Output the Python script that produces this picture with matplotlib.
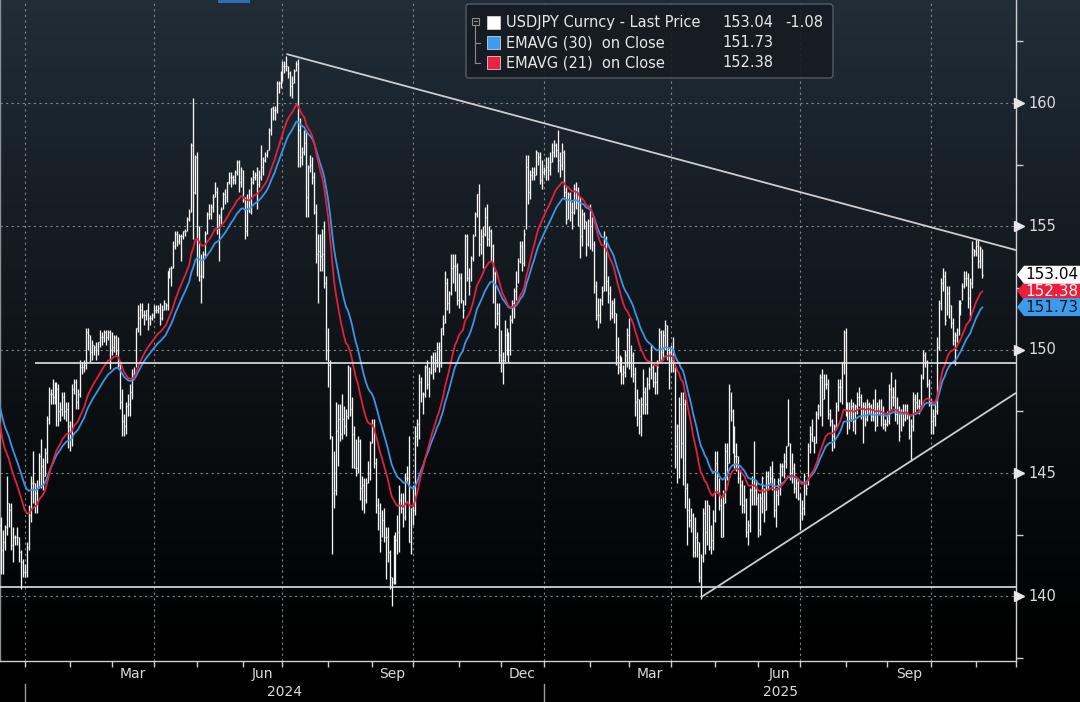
import numpy as np
import pandas as pd
import matplotlib
matplotlib.use("Agg")
import matplotlib.pyplot as plt
from matplotlib import transforms
from matplotlib.patches import Polygon, FancyBboxPatch, Rectangle

plt.rcParams["font.family"] = ["DejaVu Sans"]

# USDJPY daily bars, one value per business day from 2023-11-01 to 2025-11-06
start_date = "2023-11-01"
base_date = "2024-01-01"

close = [
    151.0, 150.4, 149.4, 150.1, 150.4, 151.0, 151.4, 151.5, 151.7, 150.4, 151.4, 150.7, 149.6, 148.4, 148.4, 149.6, 149.6, 149.5, 148.7, 147.5, 147.2, 148.2,  # Nov 23
    146.8, 147.2, 147.2, 147.3, 144.1, 144.9, 146.2, 145.4, 142.9, 141.9, 142.2, 142.8, 143.8, 143.5, 142.1, 142.4, 142.4, 142.4, 141.8, 141.4, 141.0,  # Dec 23
    141.0, 142.0, 143.3, 144.6, 144.6, 144.2, 144.4, 145.7, 145.3, 144.9, 145.8, 147.2, 148.2, 148.2, 148.1, 148.1, 148.4, 147.5, 147.6, 148.1, 147.5, 147.6, 146.9,  # Jan 24
    146.4, 148.4, 148.7, 147.9, 148.2, 149.3, 149.3, 149.4, 150.7, 150.6, 149.9, 150.2, 150.1, 150.0, 150.3, 150.5, 150.5, 150.7, 150.5, 150.7, 150.0,  # Feb
    150.1, 150.5, 150.0, 149.4, 147.9, 147.1, 146.9, 147.7, 147.8, 148.3, 149.0, 149.1, 150.9, 151.3, 151.6, 151.4, 151.4, 151.6, 151.3, 151.3, 151.4,  # Mar
    151.6, 151.6, 151.7, 151.3, 151.6, 151.9, 151.8, 153.2, 153.3, 153.3, 154.2, 154.7, 154.4, 154.6, 154.6, 154.8, 154.8, 155.3, 155.6, 158.3, 156.4, 157.8,  # Apr
    155.0, 153.0, 153.0, 153.9, 154.7, 155.5, 155.5, 155.8, 156.2, 156.4, 154.9, 155.4, 155.7, 156.3, 156.2, 156.8, 157.0, 157.0, 156.9, 157.2, 157.6, 156.8, 157.3,  # May
    156.1, 154.8, 156.1, 155.6, 156.8, 157.0, 157.1, 156.7, 157.0, 157.4, 157.7, 157.9, 158.1, 158.9, 159.8, 159.7, 159.7, 160.8, 160.8, 160.9,  # Jun
    161.5, 161.5, 161.5, 161.2, 160.7, 160.8, 161.3, 161.6, 158.9, 157.8, 158.0, 158.4, 156.2, 157.4, 157.5, 157.0, 155.6, 153.9, 154.0, 153.8, 153.9, 152.7, 150.0,  # Jul
    149.4, 146.5, 144.2, 144.3, 146.7, 147.2, 146.6, 147.2, 146.9, 147.3, 149.3, 147.6, 146.6, 145.2, 145.2, 146.3, 144.4, 144.5, 143.9, 144.6, 145.0, 146.2,  # Aug
    146.9, 145.4, 143.7, 143.4, 142.3, 143.1, 142.4, 142.4, 141.8, 140.8, 140.6, 142.3, 142.3, 142.6, 143.9, 143.6, 143.2, 144.8, 144.8, 142.2, 143.6,  # Sep
    143.5, 146.5, 147.0, 148.7, 148.2, 148.2, 149.3, 148.6, 149.1, 149.7, 149.2, 149.6, 150.1, 149.5, 150.9, 151.1, 152.7, 151.9, 152.3, 153.3, 153.4, 153.4, 152.0,  # Oct
    152.9, 152.0, 151.6, 154.6, 152.9, 152.6, 153.7, 154.6, 155.5, 156.3, 154.3, 154.6, 154.7, 155.4, 154.5, 154.8, 154.2, 153.1, 151.1, 151.5, 149.8,  # Nov
    149.6, 149.6, 150.6, 150.1, 150.0, 151.2, 151.9, 152.4, 152.6, 153.6, 154.2, 153.5, 154.7, 157.4, 156.4, 157.1, 157.2, 157.1, 158.0, 157.8, 156.9, 157.2,  # Dec
    157.3, 157.4, 157.3, 157.6, 158.0, 158.3, 158.1, 157.7, 157.5, 158.0, 156.4, 155.3, 156.3, 155.6, 155.6, 156.5, 156.0, 156.0, 154.6, 155.5, 155.2, 154.3, 155.2,  # Jan 25
    155.0, 154.3, 152.6, 151.4, 151.4, 152.0, 152.4, 154.4, 152.8, 152.3, 151.5, 151.9, 151.5, 149.7, 149.3, 149.7, 149.0, 149.1, 149.8, 150.6,  # Feb
    149.5, 149.8, 149.0, 147.9, 148.0, 147.3, 147.8, 148.3, 147.8, 148.6, 149.2, 149.3, 148.7, 148.7, 149.3, 150.7, 149.9, 150.6, 151.0, 149.8, 149.9,  # Mar
    149.6, 149.6, 146.1, 146.9, 147.8, 146.2, 147.8, 144.4, 143.5, 143.1, 143.3, 141.8, 142.4, 142.2, 140.8, 141.6, 143.4, 142.6, 143.7, 142.0, 142.3, 143.1,  # Apr
    145.4, 144.9, 143.7, 142.4, 143.8, 145.9, 145.4, 148.4, 147.5, 146.6, 145.7, 145.7, 144.8, 144.5, 143.7, 143.9, 142.6, 142.9, 144.3, 144.8, 144.3, 144.0,  # May
    142.7, 144.0, 144.8, 143.5, 144.9, 144.6, 144.8, 144.9, 143.5, 144.1, 144.7, 145.3, 145.3, 145.5, 146.1, 146.2, 145.0, 145.2, 144.4, 144.6, 144.0,  # Jun
    143.4, 143.6, 144.9, 144.4, 146.1, 146.6, 146.3, 146.2, 147.4, 147.7, 148.9, 148.0, 148.6, 148.6, 147.4, 147.1, 146.5, 146.9, 147.7, 148.5, 148.5, 149.5, 150.7,  # Jul
    147.4, 147.1, 147.5, 147.7, 147.1, 147.7, 148.1, 148.1, 147.4, 147.7, 147.2, 147.8, 147.7, 147.3, 147.4, 146.9, 147.7, 147.4, 147.4, 147.0, 147.0,  # Aug
    147.1, 148.4, 148.1, 148.1, 147.4, 147.5, 146.5, 147.4, 147.2, 147.7, 147.4, 146.5, 146.9, 148.0, 147.9, 147.7, 147.7, 148.9, 149.8, 149.5, 148.6, 147.9,  # Sep
    147.1, 147.3, 147.5, 150.1, 151.9, 152.7, 153.0, 151.2, 152.3, 151.8, 151.1, 150.4, 150.6, 150.8, 151.9, 151.9, 152.6, 152.9, 152.9, 152.1, 152.7, 154.1, 154.0,  # Oct
    154.2, 153.6, 154.12, 153.04,  # Nov
]

high = [
    151.7, 151.1, 150.5, 150.2, 150.7, 151.0, 151.4, 151.6, 151.9, 151.9, 151.4, 151.4, 150.8, 149.8, 148.7, 149.8, 149.7, 149.7, 149.6, 148.8, 147.9, 148.3,
    148.3, 147.3, 147.4, 147.6, 147.3, 145.2, 146.6, 146.6, 145.6, 143.2, 142.7, 142.9, 144.9, 143.8, 143.8, 142.8, 142.5, 142.8, 142.4, 141.9, 141.5,
    141.3, 142.2, 143.7, 144.9, 145.9, 144.6, 144.7, 145.8, 146.4, 145.6, 146.0, 147.3, 148.5, 148.4, 148.8, 148.7, 148.7, 148.6, 147.9, 148.3, 148.3, 147.9, 147.9,
    147.1, 148.6, 148.8, 148.8, 148.4, 149.6, 149.5, 149.6, 150.9, 150.9, 150.6, 150.4, 150.2, 150.3, 150.3, 150.8, 150.7, 150.8, 150.8, 150.8, 150.8,
    150.7, 150.6, 150.6, 150.5, 149.5, 148.4, 147.4, 147.9, 148.2, 148.6, 149.2, 149.3, 150.9, 151.8, 151.9, 151.9, 151.6, 151.6, 151.9, 151.4, 151.5,
    151.8, 151.8, 151.8, 151.9, 151.8, 152.0, 151.9, 153.2, 153.3, 153.4, 154.4, 154.8, 154.8, 154.7, 154.7, 154.8, 154.9, 155.4, 155.7, 158.4, 160.2, 157.9,
    158.0, 155.0, 153.9, 154.0, 154.8, 155.6, 155.9, 155.9, 156.3, 156.8, 156.6, 155.5, 155.8, 156.4, 156.5, 156.8, 157.2, 157.2, 157.1, 157.3, 157.7, 157.7, 157.4,
    157.3, 156.2, 156.3, 156.5, 157.0, 157.3, 157.2, 157.4, 157.3, 158.3, 157.8, 158.0, 158.1, 159.0, 159.8, 159.9, 159.9, 160.9, 160.9, 161.3,
    161.7, 161.7, 161.9, 161.5, 161.3, 161.1, 161.4, 161.7, 161.8, 159.4, 158.2, 158.9, 158.9, 157.5, 157.9, 157.8, 157.2, 155.9, 154.7, 154.7, 154.9, 155.2, 153.0,
    150.9, 149.6, 146.5, 145.9, 147.9, 147.8, 147.8, 148.2, 147.7, 147.6, 149.4, 149.3, 148.1, 146.9, 146.4, 146.5, 146.4, 144.9, 144.8, 144.8, 145.5, 146.3,
    147.2, 147.2, 145.6, 144.0, 143.8, 143.5, 143.6, 142.8, 142.8, 141.9, 140.8, 142.5, 142.6, 143.3, 144.5, 144.2, 144.2, 145.0, 145.3, 146.5, 143.6,
    144.5, 146.9, 147.2, 149.0, 148.9, 148.3, 149.4, 149.6, 149.3, 149.8, 149.9, 149.9, 150.3, 150.3, 150.9, 151.4, 153.2, 152.9, 152.4, 153.9, 153.9, 153.9, 153.5,
    153.1, 153.1, 152.0, 154.7, 154.7, 153.3, 153.8, 154.7, 155.6, 156.3, 156.7, 154.9, 155.0, 155.8, 155.9, 155.0, 154.9, 154.3, 153.2, 151.9, 151.9,
    150.8, 149.9, 151.2, 150.9, 150.7, 151.4, 152.0, 152.5, 153.2, 153.7, 154.4, 154.4, 154.9, 157.9, 157.9, 157.3, 157.4, 157.4, 158.1, 158.0, 158.0, 157.7,
    157.4, 157.8, 157.8, 158.0, 158.4, 158.5, 158.4, 158.9, 158.0, 158.4, 158.1, 156.6, 156.4, 156.4, 156.0, 156.7, 156.8, 156.6, 156.2, 155.7, 155.6, 155.2, 155.3,
    155.9, 155.4, 154.4, 152.8, 152.1, 152.1, 152.6, 154.8, 154.6, 153.0, 152.6, 152.0, 152.1, 151.5, 150.5, 149.8, 149.7, 149.4, 150.0, 150.9,
    151.3, 150.2, 149.9, 149.3, 148.4, 148.0, 148.1, 149.2, 148.5, 148.9, 149.3, 150.2, 149.4, 149.1, 149.6, 150.9, 150.8, 150.8, 151.2, 151.0, 150.1,
    150.2, 150.5, 149.3, 147.0, 148.1, 148.3, 148.3, 148.0, 144.6, 144.0, 143.6, 143.4, 143.2, 142.6, 142.2, 141.7, 143.6, 143.9, 143.9, 143.7, 142.9, 143.5,
    145.9, 145.9, 144.8, 144.0, 144.3, 146.2, 146.2, 148.6, 148.3, 147.6, 146.9, 146.2, 145.7, 145.1, 144.7, 144.5, 144.0, 143.1, 144.4, 144.9, 146.3, 144.7,
    144.2, 144.2, 144.9, 144.4, 145.1, 145.1, 145.3, 145.5, 144.8, 144.4, 144.8, 145.4, 145.4, 145.8, 146.1, 148.0, 146.2, 145.8, 145.4, 144.9, 144.8,
    144.2, 143.9, 145.0, 144.6, 146.2, 146.9, 147.2, 146.5, 147.5, 147.8, 149.0, 149.2, 149.0, 149.0, 148.8, 147.6, 147.2, 147.0, 147.9, 148.8, 148.8, 149.5, 150.8,
    150.9, 147.9, 147.9, 148.0, 147.9, 147.8, 148.3, 148.5, 148.2, 147.9, 147.9, 148.0, 147.9, 147.8, 148.0, 148.4, 147.9, 148.0, 148.0, 147.7, 147.2,
    147.5, 148.6, 149.1, 148.5, 148.8, 148.1, 147.7, 147.6, 147.8, 147.8, 147.8, 147.4, 147.2, 148.3, 148.2, 148.3, 148.0, 149.0, 150.0, 149.9, 149.6, 148.8,
    148.0, 147.6, 147.9, 150.5, 152.0, 152.9, 153.3, 153.2, 152.6, 152.6, 151.8, 151.3, 150.7, 150.9, 152.0, 152.0, 152.7, 153.2, 153.2, 153.1, 152.9, 154.4, 154.1,
    154.5, 154.5, 154.2, 154.1,
]

low = [
    150.6, 150.0, 149.0, 149.2, 149.9, 150.3, 150.8, 151.0, 151.4, 150.2, 150.2, 150.5, 149.2, 148.1, 147.2, 148.7, 149.3, 149.2, 148.6, 147.2, 146.7, 147.2,
    146.7, 146.2, 146.8, 146.6, 141.7, 142.9, 144.7, 145.1, 142.6, 140.9, 140.9, 141.9, 142.5, 142.8, 141.9, 141.4, 142.1, 142.1, 141.4, 140.3, 140.8,
    140.8, 140.8, 141.9, 143.0, 143.8, 143.4, 143.4, 144.4, 144.4, 144.3, 144.9, 145.4, 147.0, 147.8, 147.8, 147.8, 146.9, 146.9, 147.1, 147.3, 147.2, 147.1, 146.0,
    145.9, 146.1, 148.2, 147.6, 147.6, 148.1, 149.0, 149.1, 149.2, 150.0, 149.5, 149.6, 149.8, 149.6, 149.8, 150.1, 150.2, 150.3, 150.2, 150.4, 149.2,
    149.8, 149.9, 149.8, 149.2, 147.6, 146.5, 146.5, 146.6, 147.3, 147.3, 148.0, 148.9, 149.3, 150.7, 150.6, 151.3, 151.0, 151.2, 150.8, 151.0, 151.2,
    151.3, 151.5, 151.5, 151.0, 151.2, 151.6, 151.6, 151.6, 152.9, 152.6, 153.3, 154.1, 154.2, 154.3, 153.6, 154.5, 154.6, 154.8, 155.2, 155.6, 154.5, 156.3,
    153.0, 152.8, 151.9, 152.9, 153.8, 154.7, 155.3, 155.3, 155.6, 156.2, 154.7, 153.6, 155.1, 155.7, 155.9, 156.0, 156.7, 156.6, 156.7, 156.7, 157.1, 156.4, 156.6,
    156.0, 154.5, 154.6, 155.6, 155.5, 156.7, 156.9, 155.7, 156.6, 156.9, 157.1, 157.6, 157.8, 158.1, 158.7, 159.3, 159.3, 159.6, 160.4, 160.6,
    160.9, 161.2, 161.3, 161.0, 160.3, 160.2, 160.8, 161.3, 157.4, 157.4, 157.5, 157.9, 155.4, 155.4, 157.2, 156.7, 155.5, 153.5, 151.9, 153.2, 153.2, 152.5, 149.6,
    148.5, 146.4, 141.7, 143.6, 144.1, 145.3, 146.3, 146.4, 146.6, 146.5, 147.2, 147.3, 145.2, 145.2, 144.9, 145.0, 143.9, 143.5, 143.4, 143.8, 144.6, 144.7,
    146.2, 145.2, 143.4, 142.7, 141.8, 142.4, 142.2, 140.7, 141.4, 140.3, 139.6, 140.5, 140.5, 141.7, 141.8, 143.4, 142.8, 143.1, 144.6, 142.2, 141.7,
    142.9, 143.3, 146.1, 146.4, 147.9, 147.4, 148.1, 148.4, 148.1, 149.0, 148.8, 149.1, 149.3, 149.1, 149.3, 150.6, 151.1, 151.6, 151.5, 152.2, 152.7, 152.4, 151.8,
    151.7, 151.9, 151.3, 151.8, 152.8, 152.2, 152.8, 153.6, 154.6, 155.4, 153.8, 153.9, 153.3, 154.6, 154.2, 154.2, 153.6, 151.9, 150.9, 151.0, 149.5,
    149.1, 148.6, 149.5, 149.8, 149.5, 149.8, 151.1, 151.3, 152.0, 152.7, 153.5, 153.2, 153.4, 154.9, 155.9, 156.1, 156.9, 156.9, 157.1, 157.5, 156.7, 156.5,
    157.1, 156.9, 156.9, 157.1, 157.6, 157.8, 157.8, 157.2, 157.0, 157.3, 156.2, 155.1, 155.3, 155.2, 154.9, 155.5, 155.7, 155.0, 153.7, 154.2, 154.9, 153.8, 154.2,
    154.1, 154.0, 152.3, 151.2, 150.9, 151.1, 151.8, 152.4, 152.4, 151.9, 151.2, 151.3, 151.1, 149.4, 149.0, 149.1, 148.6, 148.6, 148.9, 149.3,
    149.2, 148.9, 148.7, 147.3, 146.9, 146.6, 146.5, 147.4, 147.4, 147.4, 148.4, 148.8, 148.5, 148.2, 148.2, 149.5, 149.5, 149.6, 150.0, 149.6, 148.4,
    149.1, 149.1, 145.2, 144.6, 144.8, 145.6, 144.5, 143.6, 142.1, 142.8, 142.6, 141.6, 141.6, 141.6, 140.6, 139.9, 141.4, 141.7, 142.1, 141.9, 141.7, 141.9,
    143.0, 144.2, 143.5, 142.4, 142.4, 143.8, 144.7, 145.4, 147.1, 145.8, 145.2, 145.1, 144.6, 143.7, 143.4, 143.4, 142.4, 142.1, 142.6, 143.7, 143.7, 143.7,
    142.4, 142.5, 143.4, 143.0, 143.5, 144.3, 144.6, 144.3, 143.2, 142.8, 143.7, 144.1, 144.9, 144.8, 145.2, 146.1, 144.7, 144.6, 144.2, 144.0, 143.9,
    142.7, 143.1, 143.3, 144.1, 144.5, 145.8, 146.3, 145.8, 146.2, 147.2, 147.3, 146.9, 148.0, 148.4, 147.2, 146.9, 145.9, 146.0, 146.8, 147.5, 147.9, 147.8, 149.0,
    147.3, 146.6, 146.8, 147.1, 146.7, 146.6, 147.4, 147.7, 147.2, 146.2, 146.9, 147.1, 147.4, 147.1, 147.1, 146.7, 146.9, 147.4, 146.9, 146.8, 146.7,
    146.9, 147.0, 147.6, 147.7, 147.1, 147.0, 146.3, 146.7, 146.9, 147.1, 147.2, 146.4, 145.5, 146.7, 147.4, 147.6, 147.4, 147.7, 148.8, 149.3, 148.5, 147.7,
    146.6, 146.6, 146.9, 147.4, 150.0, 151.6, 152.4, 151.0, 151.4, 151.3, 150.9, 150.2, 149.4, 150.3, 150.6, 151.4, 152.0, 152.5, 152.6, 151.7, 151.2, 152.5, 153.8,
    153.8, 153.3, 153.3, 152.9,
]

# legend / tag values as shown on the chart
last_price = 153.04
last_change = -1.08
ema30_last = 151.73
ema21_last = 152.38

# drawn levels and trend lines (date, price)
flat_levels = [140.37, 149.47]
flat_starts = ["2023-12-01", "2024-01-08"]
down_trend = [("2024-07-03", 161.99), ("2025-12-01", 154.04)]
up_trend = [("2025-04-22", 139.96), ("2025-12-01", 148.25)]

y_major = [140, 145, 150, 155, 160]
y_minor = [137.5, 142.5, 147.5, 152.5, 157.5, 162.5]
quarter_months = [3, 6, 9, 12]
month_names = {3: "Mar", 6: "Jun", 9: "Sep", 12: "Dec"}

BAR = "#f4f4f4"
RED = "#e0213f"
BLUE = "#3d93e6"
TXT = "#dcdcdc"
GRID = "#80858a"


def bday(d):
    return int(np.busday_count(base_date, np.datetime64(pd.Timestamp(d).date())))


dates = pd.bdate_range(start_date, periods=len(close))
x = np.busday_count(base_date, dates.values.astype("datetime64[D]"))
hi = np.array(high)
lo = np.array(low)
cl = np.array(close)
ema30 = pd.Series(cl).ewm(span=30, adjust=False).mean().values
ema21 = pd.Series(cl).ewm(span=21, adjust=False).mean().values

W, H = 1080, 702
fig = plt.figure(figsize=(W / 100, H / 100), dpi=100)
fig.patch.set_facecolor("black")

# background gradient
bg = fig.add_axes([0, 0, 1, 1], zorder=0)
t = np.linspace(0, 1, H)[:, None]
top = np.array([33, 45, 55]) / 255.0
grad = top[None, None, :] * np.clip(1 - t[:, :, None] * H / 661, 0, 1) ** 1.1
grad[661:] = 0
bg.imshow(grad, aspect="auto", extent=[0, 1, 0, 1], interpolation="bilinear")
bg.axis("off")

ax_w, ax_h = 1016, 661
ax = fig.add_axes([0, (H - ax_h) / H, ax_w / W, ax_h / H], zorder=1)
ax.set_facecolor("none")
x0, x1 = -12.5, 500
y0, y1 = 137.38, 164.18
ax.set_xlim(x0, x1)
ax.set_ylim(y0, y1)
ppu = ax_h / (y1 - y0)

ax.spines["top"].set_visible(False)
for s in ["right", "bottom"]:
    ax.spines[s].set_color("#cfcfcf")
    ax.spines[s].set_linewidth(1.0)
ax.spines["left"].set_color("#8a8f94")
ax.spines["left"].set_linewidth(1.0)

# grid
for v in y_major:
    ax.axhline(v, color=GRID, lw=0.8, ls=(0, (2, 3)), zorder=1)
months = pd.date_range("2024-01-01", "2025-12-01", freq="MS")
mpos = [bday(m) for m in months]
for m, p in zip(months, mpos):
    if m.month in (1, 4, 7, 10):
        ax.axvline(p, color=GRID, lw=0.8, ls=(0, (2, 3)), zorder=1)

# OHLC bars (high-low with close tick)
ax.vlines(x, lo, hi, color=BAR, lw=0.95, zorder=3)
ax.hlines(cl, x, x + 0.5, color=BAR, lw=0.95, zorder=3)

# moving averages
ax.plot(x, ema30, color=BLUE, lw=1.3, zorder=4)
ax.plot(x, ema21, color=RED, lw=1.3, zorder=5)

# levels and trend lines
for lvl, st in zip(flat_levels, flat_starts):
    ax.hlines(lvl, max(bday(st), x0), x1, color="#e2e2e2", lw=1.2, zorder=6)
for line in (down_trend, up_trend):
    ax.plot([bday(d) for d, _ in line], [v for _, v in line],
            color="#cdcdcd", lw=1.3, zorder=6, solid_capstyle="butt")

# right axis
ax.yaxis.tick_right()
ax.set_yticks(y_major)
ax.set_yticklabels([])
ax.set_yticks(y_minor, minor=True)
ax.tick_params(axis="y", which="major", length=0)
ax.tick_params(axis="y", which="minor", length=5, color="#cfcfcf", width=1, direction="out")
ry = transforms.blended_transform_factory(ax.transAxes, ax.transData)
ax.plot([1018.5 / ax_w] * len(y_major), y_major, ls="none", marker=">", ms=6.5,
        color="#e6e6e6", transform=ry, clip_on=False, zorder=6)
for v in y_major:
    ax.text(1028 / ax_w, v, str(v), transform=ry, ha="left", va="center",
            fontsize=10.5, color=TXT, clip_on=False)

# bottom axis
ax.set_xticks(mpos)
ax.set_xticklabels([])
ax.tick_params(axis="x", which="major", length=4, color="#cfcfcf", width=1, direction="out")
bx = transforms.blended_transform_factory(ax.transData, ax.transAxes)
for i, m in enumerate(months[:-1]):
    if m.month in quarter_months:
        mid = (mpos[i] + mpos[i + 1]) / 2
        ax.text(mid, -13 / ax_h, month_names[m.month], transform=bx, ha="center", va="center",
                fontsize=10, color=TXT, clip_on=False)
y24, y25 = bday("2024-01-01"), bday("2025-01-01")
ax.text((y24 + y25) / 2, -31 / ax_h, "2024", transform=bx, ha="center", va="center",
        fontsize=10, color=TXT, clip_on=False)
ax.text((y25 + x1) / 2, -31 / ax_h, "2025", transform=bx, ha="center", va="center",
        fontsize=10, color=TXT, clip_on=False)
for p in (y24, y25):
    ax.plot([p, p], [-23 / ax_h, -41 / ax_h], color="#9a9a9a", lw=1, transform=bx, clip_on=False)


# price tags on the right
def tag(value, face, tcolor, z):
    h = 9.0 / ppu
    xa, xb, xc = 1017 / ax_w, 1024 / ax_w, 1081 / ax_w
    pts = [(xa, value), (xb, value + h), (xc, value + h), (xc, value - h), (xb, value - h)]
    ax.add_patch(Polygon(pts, closed=True, transform=ry, facecolor=face, edgecolor="none",
                         clip_on=False, zorder=z))
    ax.text(1052 / ax_w, value, f"{value:.2f}", transform=ry, ha="center", va="center",
            fontsize=11, color=tcolor, clip_on=False, zorder=z + 0.1)


tag(ema21_last, "#e8203c", "#f4f4f4", 7)
tag(ema30_last, "#3d9be9", "#0b1a28", 8)
tag(last_price, "#ffffff", "#000000", 9)

# legend overlay in pixel coordinates
ov = fig.add_axes([0, 0, 1, 1], zorder=3)
ov.set_xlim(0, W)
ov.set_ylim(H, 0)
ov.axis("off")
ov.add_patch(Rectangle((218, 0), 32, 2.5, facecolor="#2d6fb8", edgecolor="none"))
ov.add_patch(FancyBboxPatch((466, 4), 367, 74, boxstyle="round,pad=0,rounding_size=3",
                            facecolor="#151b21", edgecolor="#5a6168", lw=1, alpha=0.9))
rows = [22.5, 42.5, 62.5]
ov.add_patch(Rectangle((471.5, 17.5), 7, 7, facecolor="none", edgecolor="#8c8c8c", lw=0.8))
ov.plot([473.5, 476.5], [21, 21], color="#8c8c8c", lw=0.8)
ov.plot([475, 475], [25, rows[2]], color="#8c8c8c", lw=0.8)
for r in rows[1:]:
    ov.plot([475, 480], [r, r], color="#8c8c8c", lw=0.8)
labels = ["USDJPY Curncy - Last Price", "EMAVG (30)  on Close", "EMAVG (21)  on Close"]
swatches = ["#ffffff", "#3d9cf0", "#ee2042"]
values = [last_price, ema30_last, ema21_last]
for r, lab, c, v in zip(rows, labels, swatches, values):
    ov.add_patch(Rectangle((487, r - 6.5), 13, 13, facecolor=c, edgecolor="#d0d0d0", lw=0.6))
    ov.text(506, r, lab, ha="left", va="center", fontsize=10.5, color="#e8e8e8")
    ov.text(773, r, f"{v:.2f}", ha="right", va="center", fontsize=10.5, color="#e8e8e8")
ov.text(785, rows[0], f"{last_change:.2f}", ha="left", va="center", fontsize=10.5, color="#e8e8e8")

fig.savefig("out.png", dpi=100, facecolor="black")
